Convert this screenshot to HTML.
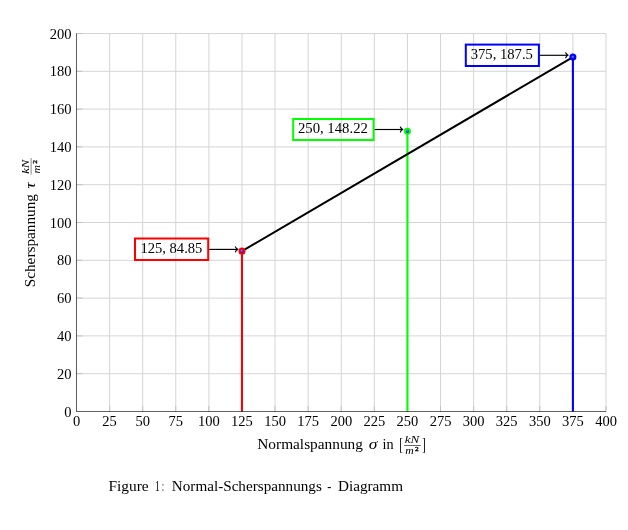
<!DOCTYPE html><html><head><meta charset="utf-8"><style>html,body{margin:0;padding:0;background:#fff;overflow:hidden}svg{display:block;will-change:transform}text{font-family:"Liberation Serif",serif;fill:#000}</style></head><body>
<svg width="628" height="530" viewBox="0 0 628 530">
<rect width="628" height="530" fill="#fff"/>
<defs><radialGradient id="ball" cx="0.4" cy="0.35" r="0.75"><stop offset="0" stop-color="#8080ff"/><stop offset="0.6" stop-color="#1010ff"/><stop offset="1" stop-color="#0000d0"/></radialGradient></defs>
<path d="M109.59 33.50V411.50M142.69 33.50V411.50M175.78 33.50V411.50M208.88 33.50V411.50M241.97 33.50V411.50M275.06 33.50V411.50M308.16 33.50V411.50M341.25 33.50V411.50M374.34 33.50V411.50M407.44 33.50V411.50M440.53 33.50V411.50M473.62 33.50V411.50M506.72 33.50V411.50M539.81 33.50V411.50M572.91 33.50V411.50M606.00 33.50V411.50M76.50 373.70H606.00M76.50 335.90H606.00M76.50 298.10H606.00M76.50 260.30H606.00M76.50 222.50H606.00M76.50 184.70H606.00M76.50 146.90H606.00M76.50 109.10H606.00M76.50 71.30H606.00M76.50 33.50H606.00" stroke="#d5d5d5" stroke-width="1" fill="none"/>
<path d="M109.59 406.00V411.50M142.69 406.00V411.50M175.78 406.00V411.50M208.88 406.00V411.50M241.97 406.00V411.50M275.06 406.00V411.50M308.16 406.00V411.50M341.25 406.00V411.50M374.34 406.00V411.50M407.44 406.00V411.50M440.53 406.00V411.50M473.62 406.00V411.50M506.72 406.00V411.50M539.81 406.00V411.50M572.91 406.00V411.50M606.00 406.00V411.50M76.50 373.70H82.30M76.50 335.90H82.30M76.50 298.10H82.30M76.50 260.30H82.30M76.50 222.50H82.30M76.50 184.70H82.30M76.50 146.90H82.30M76.50 109.10H82.30M76.50 71.30H82.30M76.50 33.50H82.30" stroke="#c2c2c2" stroke-width="1" fill="none"/>
<line x1="241.97" y1="251.13" x2="241.97" y2="411.50" stroke="#ff0000" stroke-width="2.1"/>
<line x1="407.44" y1="131.36" x2="407.44" y2="411.50" stroke="#00ff00" stroke-width="2.1"/>
<line x1="572.91" y1="57.12" x2="572.91" y2="411.50" stroke="#0000ff" stroke-width="2.1"/>
<line x1="241.97" y1="251.13" x2="572.91" y2="57.12" stroke="#000" stroke-width="2"/>
<path d="M76.50 33.50V411.50H606.00" stroke="#000" stroke-opacity="0.62" stroke-width="1.05" fill="none"/>
<circle cx="241.97" cy="251.13" r="2.55" fill="url(#ball)" stroke="#ff0000" stroke-width="1.95"/>
<circle cx="407.44" cy="131.36" r="2.55" fill="url(#ball)" stroke="#00ff00" stroke-width="1.95"/>
<circle cx="572.91" cy="57.12" r="2.55" fill="url(#ball)" stroke="#0000ff" stroke-width="1.95"/>
<rect x="135.0" y="238.5" width="73.20" height="21.50" fill="none" stroke="#ff0000" stroke-width="2"/>
<text x="140.40" y="253.00" font-size="14.5" textLength="62.00" lengthAdjust="spacingAndGlyphs">125, 84.85</text>
<line x1="209.20" y1="249.4" x2="237.30" y2="249.4" stroke="#000" stroke-width="1.15"/>
<path d="M235.40 246.90Q236.10 248.80 237.80 249.40Q236.10 250.00 235.40 251.90" stroke="#000" stroke-width="1.15" fill="none" stroke-linecap="round" stroke-linejoin="round"/>
<rect x="293.2" y="119.0" width="80.40" height="21.00" fill="none" stroke="#00ff00" stroke-width="2"/>
<text x="297.90" y="133.10" font-size="14.5" textLength="70.00" lengthAdjust="spacingAndGlyphs">250, 148.22</text>
<line x1="374.60" y1="129.5" x2="402.30" y2="129.5" stroke="#000" stroke-width="1.15"/>
<path d="M400.40 127.00Q401.10 128.90 402.80 129.50Q401.10 130.10 400.40 132.00" stroke="#000" stroke-width="1.15" fill="none" stroke-linecap="round" stroke-linejoin="round"/>
<rect x="465.8" y="44.6" width="73.10" height="21.40" fill="none" stroke="#0000ff" stroke-width="2"/>
<text x="470.70" y="58.50" font-size="14.5" textLength="62.20" lengthAdjust="spacingAndGlyphs">375, 187.5</text>
<line x1="539.90" y1="55.3" x2="567.60" y2="55.3" stroke="#000" stroke-width="1.15"/>
<path d="M565.70 52.80Q566.40 54.70 568.10 55.30Q566.40 55.90 565.70 57.80" stroke="#000" stroke-width="1.15" fill="none" stroke-linecap="round" stroke-linejoin="round"/>
<text x="76.50" y="426" font-size="14.5" text-anchor="middle">0</text>
<text x="109.59" y="426" font-size="14.5" text-anchor="middle">25</text>
<text x="142.69" y="426" font-size="14.5" text-anchor="middle">50</text>
<text x="175.78" y="426" font-size="14.5" text-anchor="middle">75</text>
<text x="208.88" y="426" font-size="14.5" text-anchor="middle">100</text>
<text x="241.97" y="426" font-size="14.5" text-anchor="middle">125</text>
<text x="275.06" y="426" font-size="14.5" text-anchor="middle">150</text>
<text x="308.16" y="426" font-size="14.5" text-anchor="middle">175</text>
<text x="341.25" y="426" font-size="14.5" text-anchor="middle">200</text>
<text x="374.34" y="426" font-size="14.5" text-anchor="middle">225</text>
<text x="407.44" y="426" font-size="14.5" text-anchor="middle">250</text>
<text x="440.53" y="426" font-size="14.5" text-anchor="middle">275</text>
<text x="473.62" y="426" font-size="14.5" text-anchor="middle">300</text>
<text x="506.72" y="426" font-size="14.5" text-anchor="middle">325</text>
<text x="539.81" y="426" font-size="14.5" text-anchor="middle">350</text>
<text x="572.91" y="426" font-size="14.5" text-anchor="middle">375</text>
<text x="606.00" y="426" font-size="14.5" text-anchor="middle">400</text>
<text x="71.5" y="416.50" font-size="14.5" text-anchor="end">0</text>
<text x="71.5" y="378.70" font-size="14.5" text-anchor="end">20</text>
<text x="71.5" y="340.90" font-size="14.5" text-anchor="end">40</text>
<text x="71.5" y="303.10" font-size="14.5" text-anchor="end">60</text>
<text x="71.5" y="265.30" font-size="14.5" text-anchor="end">80</text>
<text x="71.5" y="227.50" font-size="14.5" text-anchor="end">100</text>
<text x="71.5" y="189.70" font-size="14.5" text-anchor="end">120</text>
<text x="71.5" y="151.90" font-size="14.5" text-anchor="end">140</text>
<text x="71.5" y="114.10" font-size="14.5" text-anchor="end">160</text>
<text x="71.5" y="76.30" font-size="14.5" text-anchor="end">180</text>
<text x="71.5" y="38.50" font-size="14.5" text-anchor="end">200</text>
<text x="257.30" y="448.60" font-size="14.5" textLength="105.60" lengthAdjust="spacingAndGlyphs">Normalspannung</text>
<text x="368.80" y="448.60" font-size="14.5" font-style="italic" textLength="8.64" lengthAdjust="spacingAndGlyphs">σ</text>
<text x="382.50" y="448.60" font-size="14.5" textLength="11.10" lengthAdjust="spacingAndGlyphs">in</text>
<rect x="400.00" y="438.00" width="1" height="14.60" fill="#222"/><rect x="400.00" y="438.00" width="2.40" height="0.6" fill="#333"/><rect x="400.00" y="452.00" width="2.40" height="0.6" fill="#333"/>
<text x="404.80" y="443.10" font-size="10.2" font-style="italic" textLength="14.49" lengthAdjust="spacingAndGlyphs">kN</text>
<line x1="404.1" y1="445.5" x2="420.8" y2="445.5" stroke="#000" stroke-width="0.6"/>
<text x="405.30" y="453.70" font-size="10.2" font-style="italic" textLength="8.50" lengthAdjust="spacingAndGlyphs">m</text>
<text x="415.10" y="450.90" font-size="6.9" textLength="3.70" lengthAdjust="spacingAndGlyphs" stroke="#000" stroke-width="0.35">2</text>
<rect x="424.00" y="438.00" width="1" height="14.60" fill="#222"/><rect x="422.60" y="438.00" width="2.40" height="0.6" fill="#333"/><rect x="422.60" y="452.00" width="2.40" height="0.6" fill="#333"/>
<g transform="translate(34.8 287.3) rotate(-90)">
<text x="0.00" y="0.00" font-size="14.5" textLength="93.30" lengthAdjust="spacingAndGlyphs">Scherspannung</text>
<text x="98.70" y="0.00" font-size="14.5" font-style="italic" textLength="6.16" lengthAdjust="spacingAndGlyphs">τ</text>
<text x="113.50" y="-6.00" font-size="10.2" font-style="italic" textLength="14.20" lengthAdjust="spacingAndGlyphs">kN</text>
<line x1="112.8" y1="-3.7" x2="129.2" y2="-3.7" stroke="#000" stroke-opacity="0.6" stroke-width="0.8"/>
<text x="113.80" y="5.00" font-size="10.2" font-style="italic" textLength="8.50" lengthAdjust="spacingAndGlyphs">m</text>
<text x="123.50" y="2.00" font-size="6.9" textLength="3.80" lengthAdjust="spacingAndGlyphs" stroke="#000" stroke-width="0.35">2</text>
</g>
<text x="108.40" y="490.50" font-size="14.5" textLength="40.20" lengthAdjust="spacingAndGlyphs">Figure</text>
<text x="154.90" y="490.50" font-size="14.5" textLength="4.70" lengthAdjust="spacingAndGlyphs">1</text>
<text x="161.90" y="490.50" font-size="14.5" textLength="1.90" lengthAdjust="spacingAndGlyphs">:</text>
<text x="171.80" y="490.50" font-size="14.5" textLength="150.00" lengthAdjust="spacingAndGlyphs">Normal-Scherspannungs</text>
<text x="327.20" y="490.50" font-size="14.5" textLength="4.10" lengthAdjust="spacingAndGlyphs">-</text>
<text x="338.00" y="490.50" font-size="14.5" textLength="65.01" lengthAdjust="spacingAndGlyphs">Diagramm</text>
</svg></body></html>
